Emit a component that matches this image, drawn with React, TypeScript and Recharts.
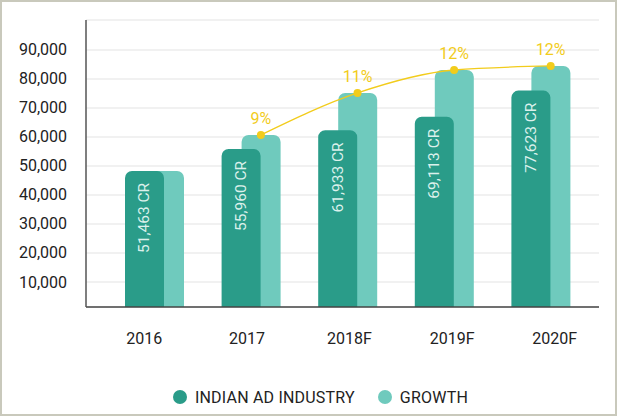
import React from 'react';
import { ComposedChart, Bar, Line, XAxis, YAxis, CartesianGrid, LabelList, Legend } from 'recharts';

const categories = ['2016', '2017', '2018F', '2019F', '2020F'];
const industryValues = [48300, 55900, 62300, 67000, 76000];
const growthValues = [48300, 60700, 75200, 83100, 84500];
const growthLineValues: (number | null)[] = [null, 60700, 75200, 83100, 84500];
const growthPctLabels = ['', '9%', '11%', '12%', '12%'];
const industryLabels = ['51,463 CR', '55,960 CR', '61,933 CR', '69,113 CR', '77,623 CR'];
const yTicks = [10000, 20000, 30000, 40000, 50000, 60000, 70000, 80000, 90000];
const seriesNames = ['INDIAN AD INDUSTRY', 'GROWTH'];

const DARK = '#2a9c89';
const LIGHT = '#6fcabd';
const YELLOW = '#f2cc1c';
const FONT = 'Roboto, sans-serif';

const data = categories.map((c, i) => ({
  cat: c,
  industry: industryValues[i],
  growth: growthValues[i],
  growthLine: growthLineValues[i],
  pct: growthPctLabels[i],
  lbl: industryLabels[i],
}));

const YTick = (props: any) => {
  const { y, payload } = props;
  return (
    <text x={67} y={y} textAnchor="end" dominantBaseline="central" fontFamily={FONT} fontSize={16} fill="#222">
      {payload.value.toLocaleString('en-US')}
    </text>
  );
};

const XTick = (props: any) => {
  const { x, y, payload } = props;
  return (
    <text x={x} y={y + 23} textAnchor="middle" dominantBaseline="central" fontFamily={FONT} fontSize={16} fill="#222">
      {payload.value}
    </text>
  );
};

const BarText = (props: any) => {
  const { x, y, width, value } = props;
  const cx = x + width / 2;
  const cy = y + 12;
  return (
    <text
      x={cx}
      y={cy}
      transform={`rotate(-90 ${cx} ${cy})`}
      textAnchor="end"
      dominantBaseline="central"
      fontFamily={FONT}
      fontSize={15.5}
      fill="#dcf1ec"
    >
      {value}
    </text>
  );
};

const LegendContent = () => {
  const colors = [DARK, LIGHT];
  return (
    <div style={{ height: 38, display: 'flex', alignItems: 'center', justifyContent: 'center', paddingLeft: 21, boxSizing: 'border-box' }}>
      {seriesNames.map((n, i) => (
        <div key={n} style={{ display: 'flex', alignItems: 'center', marginRight: i === 0 ? 23 : 0 }}>
          <span style={{ width: 14, height: 14, borderRadius: 7, background: colors[i], display: 'inline-block', marginRight: 8 }} />
          <span style={{ fontFamily: FONT, fontSize: 16, color: '#222', letterSpacing: 0.2 }}>{n}</span>
        </div>
      ))}
    </div>
  );
};

export default function App() {
  return (
    <div style={{ position: 'absolute', left: 0, top: 0, width: 620, height: 416, background: '#fff' }}>
      <div style={{ position: 'absolute', left: 0, top: 0, width: 617, height: 416, border: '2px solid #c9c9bc', boxSizing: 'border-box' }} />
      <div style={{ position: 'absolute', left: 0, top: 0 }}>
        <ComposedChart width={620} height={416} data={data} margin={{ top: 20, right: 21, left: 0, bottom: 0 }}>
          <CartesianGrid vertical={false} stroke="#ededed" strokeWidth={1.5} xAxisId="lbl" />
          <XAxis
            xAxisId="lbl"
            dataKey="cat"
            height={71}
            padding={{ left: 7, right: -7 }}
            axisLine={{ stroke: '#444', strokeWidth: 1.5 }}
            tickLine={false}
            tick={<XTick />}
            interval={0}
          />
          <XAxis xAxisId="dark" dataKey="cat" hide height={0} padding={{ left: 10, right: 20 }} />
          <XAxis xAxisId="light" dataKey="cat" hide height={0} padding={{ left: 30, right: 0 }} />
          <YAxis
            width={86}
            domain={[1380, 100340]}
            allowDataOverflow
            ticks={yTicks}
            axisLine={{ stroke: '#555', strokeWidth: 1.5 }}
            tickLine={false}
            tick={<YTick />}
          />
          <Bar xAxisId="light" dataKey="growth" name={seriesNames[1]} fill={LIGHT} barSize={39} radius={[7, 7, 0, 0]} isAnimationActive={false} />
          <Bar xAxisId="dark" dataKey="industry" name={seriesNames[0]} fill={DARK} barSize={39} radius={[7, 7, 0, 0]} isAnimationActive={false}>
            <LabelList dataKey="lbl" content={<BarText />} />
          </Bar>
          <Line
            xAxisId="light"
            type="monotone"
            dataKey="growthLine"
            stroke={YELLOW}
            strokeWidth={1.3}
            dot={{ r: 4, fill: YELLOW, stroke: YELLOW, strokeWidth: 0 }}
            activeDot={false}
            connectNulls={false}
            isAnimationActive={false}
            legendType="none"
          >
            <LabelList dataKey="pct" position="top" offset={11} fill={YELLOW} fontFamily={FONT} fontSize={16} />
          </Line>
          <Legend verticalAlign="bottom" content={<LegendContent />} wrapperStyle={{ left: 0, width: 620 }} />
        </ComposedChart>
      </div>
    </div>
  );
}
